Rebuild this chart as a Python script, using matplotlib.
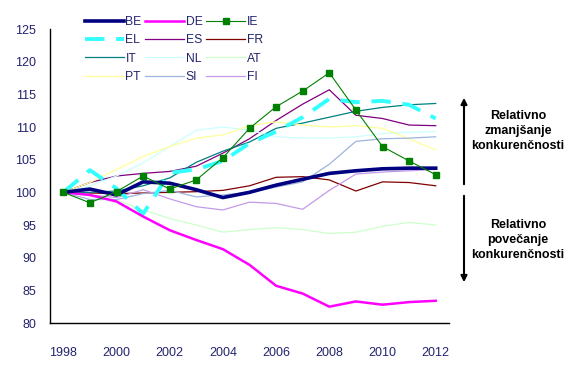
import matplotlib
matplotlib.use("Agg")
import matplotlib.pyplot as plt

years = list(range(1998, 2013))

BE = [100, 100.5, 99.6, 101.6, 101.4, 100.4, 99.2, 100.0, 101.1, 102.0, 102.9, 103.3, 103.6, 103.7, 103.7]
DE = [100, 99.6, 98.6, 96.3, 94.2, 92.7, 91.3, 88.9, 85.7, 84.5, 82.5, 83.3, 82.8, 83.2, 83.4]
IE = [100, 98.4, 100.1, 102.5, 100.5, 101.9, 105.3, 109.8, 113.1, 115.5, 118.3, 112.6, 107.0, 104.8, 102.7]
EL = [100, 103.4, 100.6, 96.7, 103.0, 103.5, 104.8, 107.5, 109.3, 111.5, 114.3, 113.8, 114.0, 113.4, 111.3]
ES = [100, 101.5, 102.5, 102.9, 103.2, 104.0, 106.0, 108.2, 111.0, 113.5, 115.7, 111.8, 111.3, 110.3, 110.2]
FR = [100, 99.9, 99.8, 99.9, 100.0, 100.1, 100.3, 101.0, 102.3, 102.4, 101.9, 100.2, 101.6, 101.5, 101.0]
IT = [100, 100.0, 100.2, 101.0, 102.2, 104.6, 106.3, 107.7, 109.8, 110.6, 111.5, 112.4, 113.0, 113.4, 113.6]
NL = [100, 101.0, 102.5, 104.5, 107.0, 109.5, 110.0, 109.5, 108.5, 108.3, 108.3, 108.5, 109.0, 109.2, 109.3]
AT = [100, 99.5, 98.8, 97.3, 96.0, 95.0, 93.9, 94.3, 94.6, 94.3, 93.7, 93.9, 94.8, 95.4, 95.0]
PT = [100, 101.5, 103.5, 105.5, 107.0, 108.3, 108.8, 110.2, 110.8, 110.3, 110.0, 110.2, 109.8, 108.2, 106.5]
SI = [100, 98.9, 98.9, 99.8, 100.3, 99.3, 99.6, 100.0, 100.8, 101.6, 104.3, 107.8, 108.2, 108.3, 108.5]
FI = [100, 99.6, 99.2, 100.4, 99.0, 97.8, 97.3, 98.5, 98.3, 97.4, 100.3, 102.8, 103.1, 103.3, 103.5]

xtick_labels = ['1998', '2000', '2002', '2004', '2006', '2008', '2010', '2012']
yticks = [80, 85, 90, 95, 100, 105, 110, 115, 120, 125]

plt.rcParams['font.family'] = ['Liberation Sans', 'DejaVu Sans']
NAVY_TXT = '#23236e'

fig = plt.figure(figsize=(5.84, 3.68), dpi=100)
ax = fig.add_axes([50 / 584, 45 / 368, 399 / 584, 294 / 368])

# (label, data, style) in legend order (row by row)
series = [
    ('BE', BE, dict(color='#000080', lw=2.6)),
    ('DE', DE, dict(color='#ff00ff', lw=1.8)),
    ('IE', IE, dict(color='#008000', lw=0.8, marker='s', markersize=4.5)),
    ('EL', EL, dict(color='#33ffff', lw=2.8, dashes=(5, 3))),
    ('ES', ES, dict(color='#800080', lw=0.9)),
    ('FR', FR, dict(color='#800000', lw=0.9)),
    ('IT', IT, dict(color='#008080', lw=0.9)),
    ('NL', NL, dict(color='#ccffff', lw=0.9)),
    ('AT', AT, dict(color='#ccffcc', lw=0.9)),
    ('PT', PT, dict(color='#ffff99', lw=0.9)),
    ('SI', SI, dict(color='#9db5dc', lw=0.9)),
    ('FI', FI, dict(color='#c49ae8', lw=0.9)),
]
zorders = {'BE': 9, 'DE': 8, 'IE': 10, 'EL': 7}
handles = []
for name, vals, style in series:
    h, = ax.plot(years, vals, label=name, zorder=zorders.get(name, 5), **style)
    handles.append(h)

ax.set_xlim(1997.5, 2012.5)
ax.set_ylim(80, 125)
ax.set_xticks(range(1998, 2013, 2))
ax.set_xticklabels(xtick_labels)
ax.set_yticks(yticks)
ax.tick_params(axis='both', length=0, labelsize=9, colors=NAVY_TXT)
ax.tick_params(axis='x', pad=17)
ax.tick_params(axis='y', pad=10)
for s in ('top', 'right'):
    ax.spines[s].set_visible(False)
for s in ('left', 'bottom'):
    ax.spines[s].set_linewidth(1.0)
    ax.spines[s].set_color('black')

# matplotlib fills legend columns first -> reorder to read row by row
order = [0, 3, 6, 9, 1, 4, 7, 10, 2, 5, 8, 11]
leg = ax.legend([handles[i] for i in order], [series[i][0] for i in order],
                ncol=3, loc='upper left', bbox_to_anchor=(85 / 584, 1 - 16 / 368),
                bbox_transform=fig.transFigure, frameon=False, fontsize=8.7,
                handlelength=3.2, handletextpad=0.15, columnspacing=0.3,
                labelspacing=0.52, borderpad=0, borderaxespad=0)
for t in leg.get_texts():
    t.set_color(NAVY_TXT)

# arrows on the right
ax.annotate('', xy=(464, 368 - 95), xytext=(464, 368 - 187), xycoords='figure pixels',
            textcoords='figure pixels',
            arrowprops=dict(arrowstyle='-|>', color='black', lw=1.5, mutation_scale=9))
ax.annotate('', xy=(464, 368 - 285), xytext=(464, 368 - 193), xycoords='figure pixels',
            textcoords='figure pixels',
            arrowprops=dict(arrowstyle='-|>', color='black', lw=1.5, mutation_scale=9))

fig.text(518 / 584, (368 - 131) / 368, 'Relativno\nzmanjšanje\nkonkurenčnosti',
         ha='center', va='center', fontsize=9, fontweight='bold', linespacing=1.3)
fig.text(518 / 584, (368 - 240) / 368, 'Relativno\npovečanje\nkonkurenčnosti',
         ha='center', va='center', fontsize=9, fontweight='bold', linespacing=1.3)

fig.savefig('out.png', dpi=100)
